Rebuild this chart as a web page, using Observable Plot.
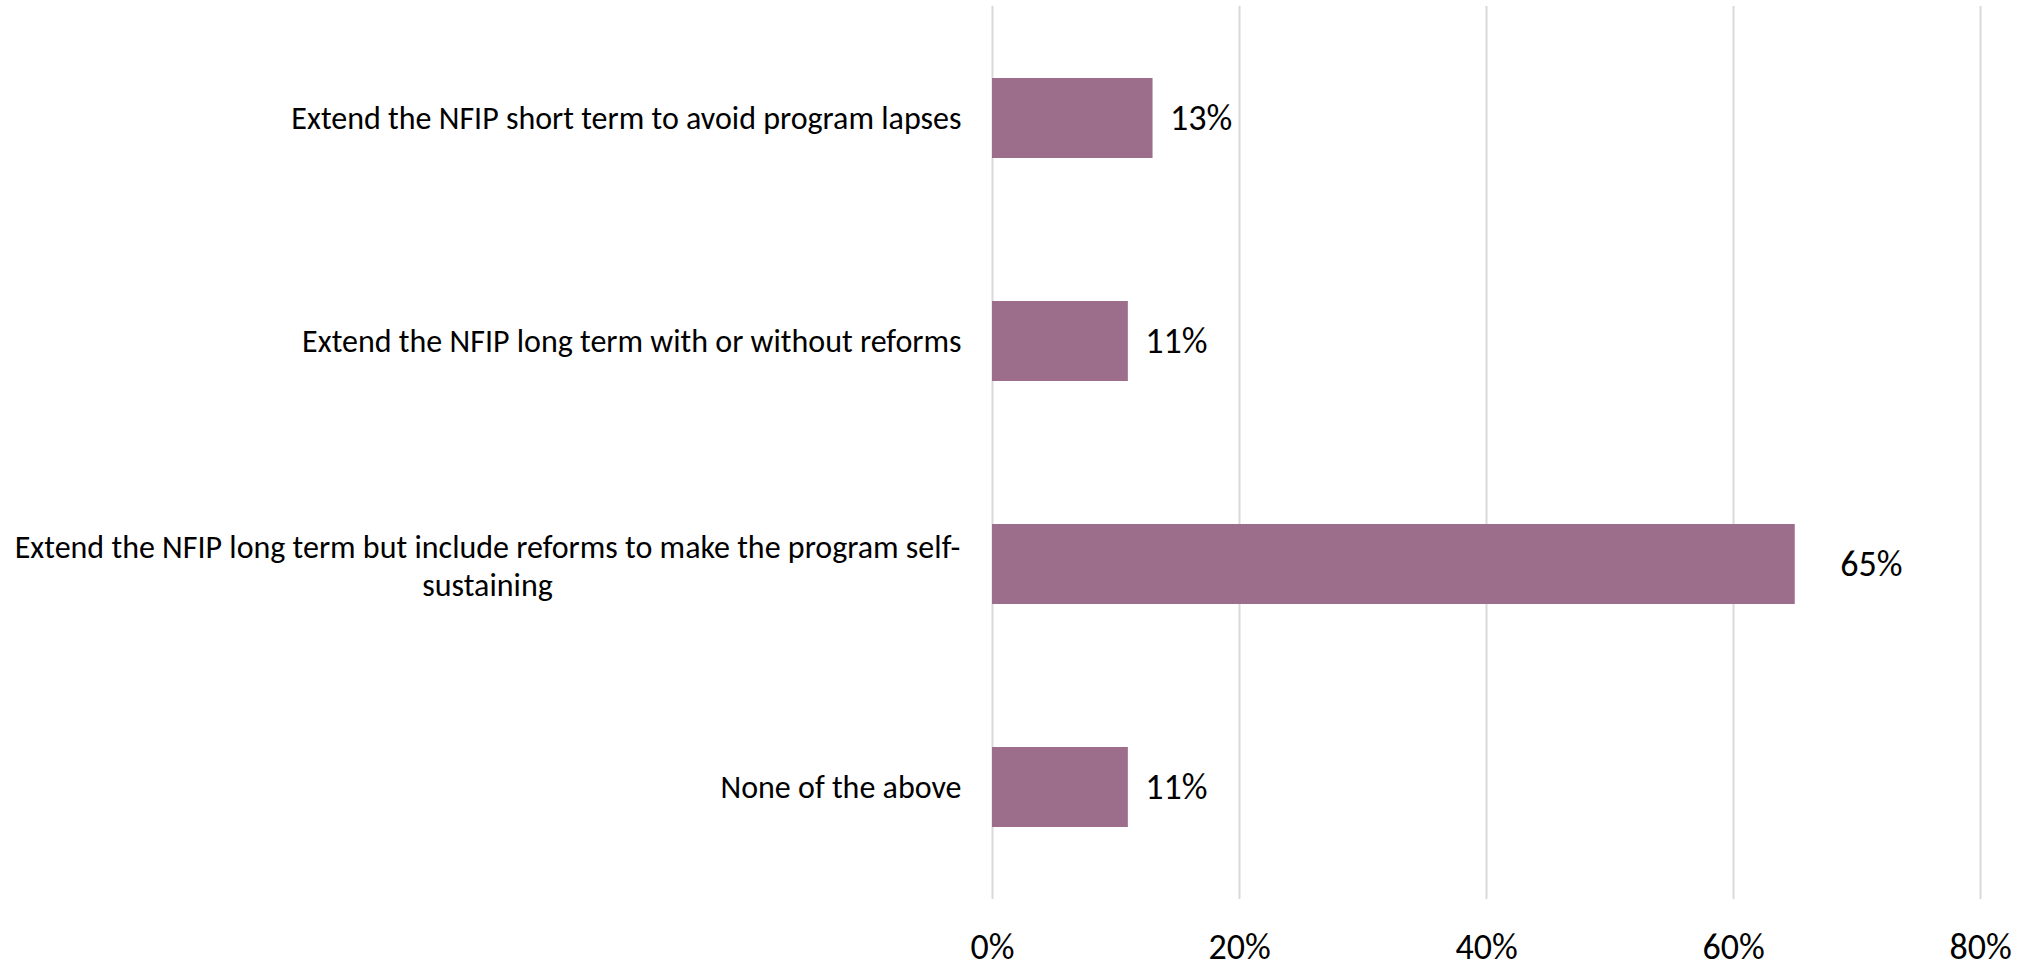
<!DOCTYPE html>
<html><head><meta charset="utf-8">
<script src="https://cdn.jsdelivr.net/npm/d3@7"></script>
<script src="https://cdn.jsdelivr.net/npm/@observablehq/plot@0.6"></script>
<style>html,body{margin:0;padding:0;background:#fff;overflow:hidden}</style>
</head><body><div id="chart"></div>
<script>
const categories = [
  "Extend the NFIP short term to avoid program lapses",
  "Extend the NFIP long term with or without reforms",
  "Extend the NFIP long term but include reforms to make the program self-sustaining",
  "None of the above"
];
const categoryLabels = [
  "Extend the NFIP short term to avoid program lapses",
  "Extend the NFIP long term with or without reforms",
  "Extend the NFIP long term but include reforms to make the program self-\nsustaining",
  "None of the above"
];
const values = [13, 11, 65, 11];
const xTicks = [0, 20, 40, 60, 80];
const xTickLabels = ["0%", "20%", "40%", "60%", "80%"];

const data = categories.map((c, i) => ({category: c, display: categoryLabels[i], value: values[i], label: values[i] + "%"}));
const fmt = d => xTickLabels[xTicks.indexOf(d)];
const font = "Carlito, Lato, sans-serif";

const chart = Plot.plot({
  width: 2028, height: 969,
  marginLeft: 992, marginRight: 48, marginTop: 6, marginBottom: 70,
  style: {fontFamily: font, color: "#000", background: "#fff"},
  x: {domain: [0, 80], label: null},
  y: {domain: categories, paddingInner: 0.642, paddingOuter: 0.321, axis: null},
  marks: [
    Plot.ruleX(xTicks, {stroke: "#d9d9d9", strokeWidth: 2}),
    Plot.barX(data, {y: "category", x: "value", fill: "#9d6e8b"}),
    Plot.text(data, {filter: d => d.value < 50, y: "category", x: "value", text: "label", textAnchor: "start", dx: 17, fontSize: 36, fill: "#000"}),
    Plot.text(data, {filter: d => d.value >= 50, y: "category", x: "value", text: "label", textAnchor: "start", dx: 45, fontSize: 36, fill: "#000"}),
    Plot.axisX({ticks: xTicks, tickFormat: fmt, tickSize: 0, tickPadding: 34, fontSize: 36, label: null}),
    Plot.text(data, {filter: d => !d.display.includes("\n"), y: "category", text: "display", frameAnchor: "left", textAnchor: "end", dx: -31, fontSize: 32, fill: "#000"}),
    Plot.text(data, {filter: d => d.display.includes("\n"), y: "category", text: "display", frameAnchor: "left", textAnchor: "middle", dx: -505, lineHeight: 1.2, fontSize: 32, fill: "#000"})
  ]
});
document.getElementById("chart").appendChild(chart);
</script>
</body></html>
